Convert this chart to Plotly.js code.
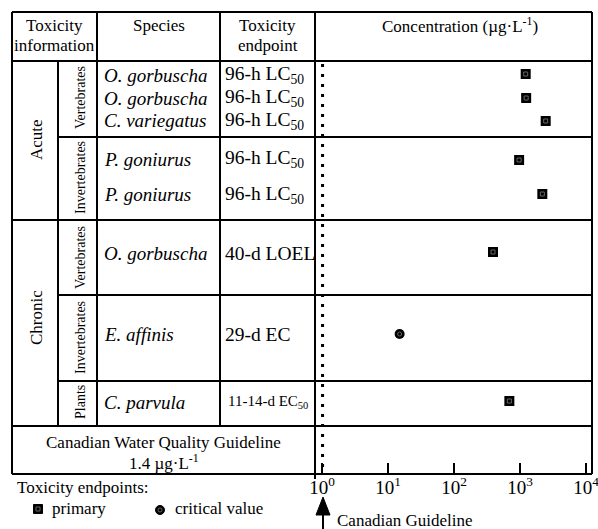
<!DOCTYPE html>
<html>
<head>
<meta charset="utf-8">
<script src="https://cdn.plot.ly/plotly-3.0.1.min.js"></script>
<style>html,body{margin:0;padding:0;background:#fff;}</style>
</head>
<body>
<div id="chart" style="width:598px;height:529px;"></div>
<script>
// ---------------- DATA ----------------
const species = ['O. gorbuscha', 'O. gorbuscha', 'C. variegatus', 'P. goniurus', 'P. goniurus', 'O. gorbuscha', 'E. affinis', 'C. parvula'];
const endpoints = ['96-h LC<sub>50</sub>', '96-h LC<sub>50</sub>', '96-h LC<sub>50</sub>', '96-h LC<sub>50</sub>', '96-h LC<sub>50</sub>', '40-d LOEL', '29-d EC', '11-14-d EC<sub>50</sub>'];
const concentrations = [1220, 1240, 2450, 970, 2180, 390, 15, 690];
const endpointTypes = ['primary', 'primary', 'primary', 'primary', 'primary', 'primary', 'critical', 'primary'];
const durations = ['Acute', 'Chronic'];
const groups = ['Vertebrates', 'Invertebrates', 'Vertebrates', 'Invertebrates', 'Plants'];
const tickValues = [1, 10, 100, 1000, 10000];
const tickLabels = ['10<sup>0</sup>', '10<sup>1</sup>', '10<sup>2</sup>', '10<sup>3</sup>', '10<sup>4</sup>'];
const guidelineLine = 1.02;   // where the dotted guideline is drawn on the axis
const guidelineText = '1.4 µg·L<sup>-1</sup>';

// ---------------- LAYOUT HELPERS ----------------
const W = 598, H = 529;
const FONT = 'Liberation Serif, Times New Roman, serif';
const px = x => x / W;
const py = y => 1 - y / H;
// vertical positions (pixels) of each table row
const rowPos = [74, 98, 121, 160, 194, 252, 334, 401];
const textRowPos = [75, 98, 121, 159, 195, 253, 334, 402];

const shapes = [];
function line(x0, y0, x1, y1, w) {
  shapes.push({type: 'line', xref: 'paper', yref: 'paper', x0: px(x0), y0: py(y0), x1: px(x1), y1: py(y1),
    line: {color: '#000', width: w || 2}});
}
// outer border & grid
line(12, 12, 592, 12);
line(12, 474, 592, 474);
line(12, 12, 12, 474);
line(592, 12, 592, 474);
line(12, 61, 592, 61);
line(58, 137, 592, 137);
line(12, 220, 592, 220);
line(58, 295, 592, 295);
line(58, 381, 592, 381);
line(12, 426, 592, 426);
line(58, 61, 58, 426);
line(97, 12, 97, 426);
line(220, 12, 220, 426);
line(315, 12, 315, 479);

// guideline dotted line
shapes.push({type: 'line', xref: 'x', yref: 'paper', x0: guidelineLine, x1: guidelineLine, y0: py(64), y1: py(472),
  line: {color: '#000', width: 3, dash: '3px,7px'}});

// legend markers
shapes.push({type: 'rect', xref: 'paper', yref: 'paper', x0: px(33.5), x1: px(42.5), y0: py(504.5), y1: py(513.5),
  fillcolor: '#000', line: {color: '#000', width: 1}});
shapes.push({type: 'rect', xref: 'paper', yref: 'paper', x0: px(36), x1: px(40), y0: py(507), y1: py(511),
  fillcolor: 'rgba(0,0,0,0)', line: {color: '#666', width: 1}});
shapes.push({type: 'circle', xref: 'paper', yref: 'paper', x0: px(155.5), x1: px(164.5), y0: py(505.5), y1: py(514.5),
  fillcolor: '#000', line: {color: '#000', width: 1}});
shapes.push({type: 'circle', xref: 'paper', yref: 'paper', x0: px(158), x1: px(162), y0: py(508), y1: py(512),
  fillcolor: 'rgba(0,0,0,0)', line: {color: '#666', width: 1}});

// arrow under axis
shapes.push({type: 'path', xref: 'paper', yref: 'paper',
  path: `M ${px(323)} ${py(497)} L ${px(316)} ${py(515)} L ${px(330)} ${py(515)} Z`,
  fillcolor: '#000', line: {color: '#000', width: 1}});
line(323, 514, 323, 529, 2);

const annotations = [];
function ann(x, y, text, o) {
  o = o || {};
  annotations.push({xref: 'paper', yref: 'paper', x: px(x), y: py(y), text: text, showarrow: false,
    xanchor: o.xa || 'center', yanchor: 'middle', textangle: o.angle || 0,
    font: {family: FONT, size: o.size || 17, color: '#000'}});
}
// header
ann(54.5, 25, 'Toxicity');
ann(54.5, 46, 'information');
ann(158.5, 25, 'Species');
ann(267.5, 25, 'Toxicity');
ann(267.5, 46, 'endpoint');
ann(460, 25, 'Concentration (µg·L<sup>-1</sup>)');
// duration / group labels
ann(36, 140, durations[0], {angle: -90});
ann(36, 318, durations[1], {angle: -90});
const groupPos = [98, 178, 258, 338, 402];
groups.forEach((g, i) => ann(80, groupPos[i], g, {angle: -90, size: 14}));
// species & endpoints
species.forEach((s, i) => ann(102, textRowPos[i], '<i>' + s + '</i>', {xa: 'left', size: 19}));
endpoints.forEach((e, i) => ann(i === 7 ? 226 : 223, textRowPos[i], e, {xa: 'left', size: i === 7 ? 15 : 19.5}));
// guideline row
ann(163.5, 442, 'Canadian Water Quality Guideline');
ann(163.5, 462, guidelineText);
// legend text
ann(15, 487, 'Toxicity endpoints:', {xa: 'left'});
ann(50, 508, 'primary', {xa: 'left'});
ann(173, 508, 'critical value', {xa: 'left'});
ann(335, 520, 'Canadian Guideline', {xa: 'left'});

// ---------------- TRACES ----------------
const traces = [];
['primary', 'critical'].forEach(t => {
  const xs = [], ys = [];
  concentrations.forEach((c, i) => { if (endpointTypes[i] === t) { xs.push(c); ys.push(rowPos[i]); } });
  const sym = t === 'primary' ? 'square' : 'circle';
  traces.push({type: 'scatter', mode: 'markers', x: xs, y: ys, showlegend: false, hoverinfo: 'skip',
    marker: {symbol: sym, size: 10, color: '#000', line: {width: 0}}});
  traces.push({type: 'scatter', mode: 'markers', x: xs, y: ys, showlegend: false, hoverinfo: 'skip',
    marker: {symbol: sym + '-open', size: 4, color: '#666', line: {width: 1, color: '#666'}}});
});

const layout = {
  width: W, height: H,
  margin: {l: 0, r: 0, t: 0, b: 0},
  paper_bgcolor: '#fff', plot_bgcolor: 'rgba(0,0,0,0)',
  showlegend: false,
  xaxis: {
    type: 'log', domain: [px(315), px(592)], range: [-0.106, 4.091],
    tickvals: tickValues, ticktext: tickLabels,
    ticks: 'inside', ticklen: 11, tickwidth: 2, tickcolor: '#000',
    tickfont: {family: FONT, size: 19, color: '#000'},
    ticklabeloverflow: 'allow',
    showgrid: false, zeroline: false, showline: false, anchor: 'y', fixedrange: true
  },
  yaxis: {
    domain: [py(474), py(61)], range: [474, 61], visible: false, fixedrange: true
  },
  shapes: shapes,
  annotations: annotations,
  font: {family: FONT, color: '#000'}
};

Plotly.newPlot('chart', traces, layout, {displayModeBar: false, staticPlot: true});
</script>
</body>
</html>
